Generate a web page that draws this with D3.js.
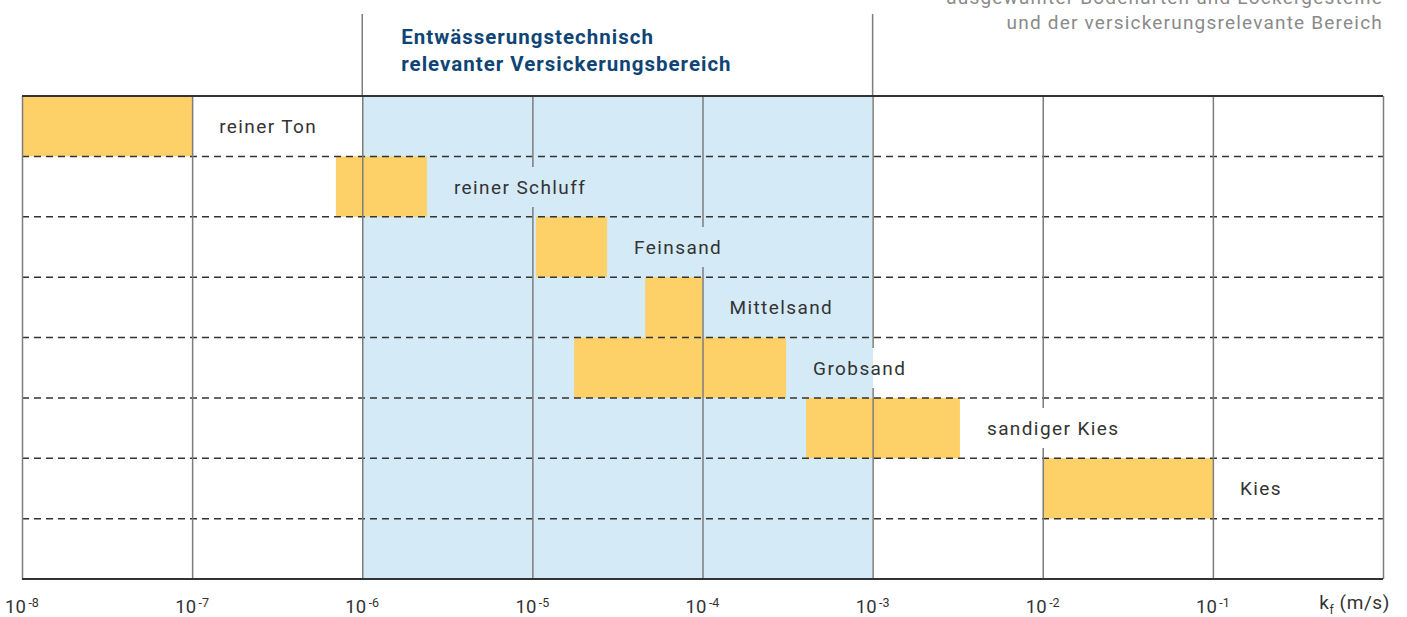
<!DOCTYPE html>
<html lang="de">
<head>
<meta charset="utf-8">
<title>Durchlässigkeitsbeiwerte</title>
<script src="https://cdn.jsdelivr.net/npm/d3@7/dist/d3.min.js"></script>
<style>
  html, body { margin: 0; padding: 0; background: #fff; }
  svg { display: block; font-family: Roboto, "Noto Sans", sans-serif; }
</style>
</head>
<body>
<svg id="chart" width="1407" height="617"></svg>
<script>
// Bodenarten (one row each) and their k_f ranges in m/s
const categories = ["reiner Ton", "reiner Schluff", "Feinsand", "Mittelsand",
                    "Grobsand", "sandiger Kies", "Kies"];
const kfMin = [1e-8, 7.0e-7, 1.05e-5, 4.6e-5, 1.76e-5, 4.06e-4, 1e-2];
const kfMax = [1e-7, 2.4e-6, 2.75e-5, 1e-4, 3.1e-4, 3.26e-3, 1e-1];

// range relevant for drainage infiltration
const relevantRange = [1e-6, 1e-3];

// axis: decade exponents that get a "10^n" label, plus the unit at the end
const tickExponents = [-8, -7, -6, -5, -4, -3, -2, -1];
const gridExponents = [-8, -7, -6, -5, -4, -3, -2, -1, 0];

const headingLines = ["Entwässerungstechnisch", "relevanter Versickerungsbereich"];
const titleLines = ["ausgewählter Bodenarten und Lockergesteine",
                    "und der versickerungsrelevante Bereich"];

// ---- layout ----
const plotLeft = 22, plotRight = 1383, plotTop = 96, plotBottom = 579;
const rowCount = categories.length + 1;   // one empty row at the bottom

const colors = {
  region: "#d4eaf7",
  bar: "#fdd068",
  grid: "#7d7d7d",
  dash: "#333333",
  frame: "#333333",
  text: "#333333",
  heading: "#0f4576",
  title: "#8a8a8a"
};

const svg = d3.select("#chart");

const x = d3.scaleLog().domain([1e-8, 1]).range([plotLeft, plotRight]);
const y = d3.scaleBand()
  .domain(d3.range(rowCount))
  .range([plotTop, plotBottom])
  .paddingInner(0).paddingOuter(0);

const regionX0 = x(relevantRange[0]), regionX1 = x(relevantRange[1]);

// relevant infiltration band
svg.append("rect")
  .attr("x", regionX0)
  .attr("y", plotTop)
  .attr("width", regionX1 - regionX0)
  .attr("height", plotBottom - plotTop)
  .attr("fill", colors.region);

// k_f range bars
svg.append("g").selectAll("rect")
  .data(categories)
  .join("rect")
  .attr("x", (d, i) => x(kfMin[i]))
  .attr("y", (d, i) => y(i))
  .attr("width", (d, i) => x(kfMax[i]) - x(kfMin[i]))
  .attr("height", y.bandwidth())
  .attr("fill", colors.bar);

// dashed row separators
svg.append("g").selectAll("line")
  .data(d3.range(1, rowCount))
  .join("line")
  .attr("x1", plotLeft).attr("x2", plotRight)
  .attr("y1", i => y(i)).attr("y2", i => y(i))
  .attr("stroke", colors.dash)
  .attr("stroke-width", 1.5)
  .attr("stroke-dasharray", "7,5");

// vertical decade grid lines via an axis with inverted ticks
const gridAxis = d3.axisBottom(x)
  .tickValues(gridExponents.map(e => Math.pow(10, e)))
  .tickSize(-(plotBottom - plotTop))
  .tickFormat("");
const gridG = svg.append("g")
  .attr("transform", `translate(0,${plotBottom})`)
  .call(gridAxis);
gridG.select(".domain").remove();
gridG.selectAll(".tick line")
  .attr("stroke", colors.grid)
  .attr("stroke-width", 1.5);

// region boundaries extend up to the heading
svg.append("g").selectAll("line")
  .data(relevantRange)
  .join("line")
  .attr("x1", d => x(d)).attr("x2", d => x(d))
  .attr("y1", 14).attr("y2", plotTop)
  .attr("stroke", colors.grid)
  .attr("stroke-width", 1.5);

// frame: top edge and baseline
svg.append("line")
  .attr("x1", plotLeft).attr("x2", plotRight)
  .attr("y1", plotTop).attr("y2", plotTop)
  .attr("stroke", colors.frame).attr("stroke-width", 1.8);
svg.append("line")
  .attr("x1", plotLeft).attr("x2", plotRight)
  .attr("y1", plotBottom).attr("y2", plotBottom)
  .attr("stroke", colors.frame).attr("stroke-width", 1.8);

// category labels, each on a background that hides the grid lines behind it
const labelG = svg.append("g");
categories.forEach((name, i) => {
  const g = labelG.append("g");
  const tx = x(kfMax[i]) + 27;
  const cy = y(i) + y.bandwidth() / 2;
  const bgG = g.append("g").attr("shape-rendering", "crispEdges");
  const t = g.append("text")
    .attr("x", tx)
    .attr("y", cy + 7)
    .attr("font-size", 19)
    .attr("letter-spacing", 1.4)
    .attr("fill", colors.text)
    .text(name);
  const w = t.node().getComputedTextLength();
  const bx0 = Math.round(tx - 5), bx1 = Math.round(tx + w + 4);
  // split the background where it crosses the band edges
  const cuts = [bx0, bx1, Math.round(regionX0), Math.round(regionX1)]
    .filter(v => v >= bx0 && v <= bx1)
    .sort((a, b) => a - b);
  const edges = Array.from(new Set(cuts));
  for (let k = 0; k < edges.length - 1; k++) {
    const a = edges[k], b = edges[k + 1];
    const mid = (a + b) / 2;
    const inside = mid > regionX0 && mid < regionX1;
    bgG.append("rect")
      .attr("x", a).attr("y", Math.round(cy - 20))
      .attr("width", b - a).attr("height", 40)
      .attr("fill", inside ? colors.region : "#fff");
  }
});

// decade tick labels 10^n
const tickG = svg.append("g");
tickExponents.forEach(e => {
  const t = tickG.append("text")
    .attr("x", x(Math.pow(10, e)))
    .attr("y", 613)
    .attr("text-anchor", "middle")
    .attr("font-size", 18.5)
    .attr("fill", colors.text);
  t.append("tspan").text("10");
  t.append("tspan")
    .attr("dy", -6.5)
    .attr("dx", 2.5)
    .attr("font-size", 12.5)
    .text(String(e));
});

// unit label at the end of the axis
const unit = tickG.append("text")
  .attr("x", 1390)
  .attr("y", 609)
  .attr("text-anchor", "end")
  .attr("font-size", 19)
  .attr("letter-spacing", 0.6)
  .attr("fill", colors.text);
unit.append("tspan").text("k");
unit.append("tspan").attr("dy", 5).attr("font-size", 12).text("f");
unit.append("tspan").attr("dy", -5).text(" (m/s)");

// heading of the relevant band
svg.append("g").selectAll("text")
  .data(headingLines)
  .join("text")
  .attr("x", regionX0 + 39)
  .attr("y", (d, i) => 44 + i * 26.5)
  .attr("font-size", 20.5)
  .attr("font-weight", "bold")
  .attr("letter-spacing", 1)
  .attr("fill", colors.heading)
  .text(d => d);

// chart title, top right
svg.append("g").selectAll("text")
  .data(titleLines)
  .join("text")
  .attr("x", plotRight)
  .attr("y", (d, i) => 4 + i * 25)
  .attr("text-anchor", "end")
  .attr("font-size", 19)
  .attr("letter-spacing", 1.2)
  .attr("fill", colors.title)
  .text(d => d);
</script>
</body>
</html>
